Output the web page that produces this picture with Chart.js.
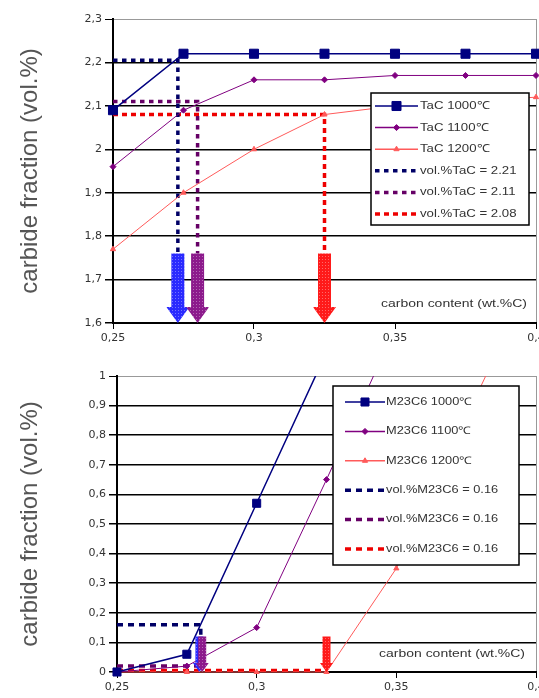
<!DOCTYPE html>
<html>
<head>
<meta charset="utf-8">
<script src="https://cdn.jsdelivr.net/npm/chart.js@4.4.0/dist/chart.umd.min.js"></script>
<style>
html,body{margin:0;padding:0;background:#fff;}
#wrap{position:relative;width:539px;height:698px;overflow:hidden;}
canvas{position:absolute;left:0;}
#top{top:0;}
#bot{top:352px;}
</style>
</head>
<body>
<div id="wrap">
  <canvas id="top" width="552" height="352"></canvas>
  <canvas id="bot" width="552" height="346"></canvas>
</div>
<script>
// carbon content (wt.%C)
const carbon = [0.25, 0.275, 0.3, 0.325, 0.35, 0.375, 0.4];
const xLabels = ['0,25', '0,3', '0,35', '0,4'];

// TaC
const tac1000 = [2.09, 2.22, 2.22, 2.22, 2.22, 2.22, 2.22];
const tac1100 = [1.96, 2.09, 2.16, 2.16, 2.17, 2.17, 2.17];
const tac1200 = [1.77, 1.90, 2.00, 2.08, 2.10, 2.11, 2.12];
const tacYLabels = ['1,6', '1,7', '1,8', '1,9', '2', '2,1', '2,2', '2,3'];
const tacGuideLevel = [2.205, 2.11, 2.08];
const tacGuideX = [0.273, 0.28, 0.325];
const tacGuideEnd = [1.76, 1.76, 1.76];
const tacArrowX = [0.273, 0.28, 0.325];
const tacArrowTop = [1.76, 1.76, 1.76];
const tacArrowBottom = [1.6, 1.6, 1.6];

// M23C6
const m1000 = [0, 0.06, 0.57, 1.08, null, null, null];
const m1100 = [0, 0.02, 0.15, 0.65, 1.17, null, null];
const m1200 = [0, 0, 0, 0, 0.35, 0.86, 1.36];
const mYLabels = ['0', '0,1', '0,2', '0,3', '0,4', '0,5', '0,6', '0,7', '0,8', '0,9', '1'];
const mGuideLevel = [0.16, 0.02, 0.005];
const mGuideX = [0.28, 0.28, 0.325];
const mGuideEnd = [0.12, 0.02, 0.005];
const mArrowX = [0.2795, 0.2805, 0.325];
const mArrowTop = [0.12, 0.12, 0.12];
const mArrowBottom = [0, 0, 0];

const NAVY = '#000080', PURPLE = '#800080', RED = '#ff5a5a';
const arrowColors = ['#2a2aff', '#8c1a8c', '#ff1a1a'];
const guideColors = ['#000066', '#660066', '#ee0000'];

function series(label, vals, color, w, style, r){
  return {label, data: carbon.map((c,i)=>({x:c, y:vals[i]})), borderColor:color, borderWidth:w,
    pointStyle:style, pointRadius:r, pointHoverRadius:r, pointBackgroundColor:color, pointBorderColor:color,
    pointBorderWidth:1, tension:0, spanGaps:false, clip:{left:10, right:10, top:0, bottom:10}};
}
function guide(label, level, x, end, color, dash){
  return {label, data:[{x:0.25,y:level},{x:x,y:level},{x:x,y:end}], borderColor:color, borderWidth:3.5,
    borderDash:dash, borderCapStyle:'butt', pointRadius:0, pointHoverRadius:0, tension:0};
}

function stretchText(ctx, txt, x, y, sx, align){
  ctx.save(); ctx.translate(x, y); ctx.scale(sx, 1); ctx.textAlign = align; ctx.fillText(txt, 0, 0); ctx.restore();
}

function dotPattern(ctx, color){
  const c = document.createElement('canvas'); c.width = 3; c.height = 3;
  const g = c.getContext('2d');
  g.fillStyle = color; g.fillRect(0,0,3,3);
  g.fillStyle = 'rgba(255,255,255,0.35)'; g.fillRect(1,1,1,1);
  return ctx.createPattern(c, 'repeat');
}

const arrowPlugin = {
  id: 'arrows',
  afterDatasetsDraw(chart, args, o){
    const {ctx, scales:{x, y}} = chart;
    o.xs.forEach((v,i)=>{
      const px = x.getPixelForValue(v), t = y.getPixelForValue(o.tops[i]), b = y.getPixelForValue(o.bottoms[i]);
      const sw = o.shaft/2, hw = o.head/2, hb = b - o.headH;
      ctx.save();
      ctx.fillStyle = dotPattern(ctx, o.colors[i]);
      ctx.beginPath();
      ctx.moveTo(px-sw, t); ctx.lineTo(px+sw, t); ctx.lineTo(px+sw, hb); ctx.lineTo(px+hw, hb);
      ctx.lineTo(px, b); ctx.lineTo(px-hw, hb); ctx.lineTo(px-sw, hb); ctx.closePath();
      ctx.fill();
      ctx.restore();
    });
  }
};

const boxLegend = {
  id: 'boxLegend',
  afterDraw(chart, args, o){
    const ctx = chart.ctx;
    ctx.save();
    // axis caption inside plot
    ctx.fillStyle = '#333'; ctx.font = o.capFont; ctx.textBaseline = 'middle';
    stretchText(ctx, o.caption, o.capX, o.capY, o.capSx, 'right');
    // legend box
    ctx.fillStyle = '#fff'; ctx.fillRect(o.x, o.y, o.w, o.h);
    ctx.strokeStyle = '#000'; ctx.lineWidth = 1.5; ctx.strokeRect(o.x, o.y, o.w, o.h);
    chart.data.datasets.forEach((ds,i)=>{
      const yy = o.y + o.first + i*o.rowH;
      ctx.strokeStyle = ds.borderColor; ctx.lineWidth = Math.max(ds.borderWidth, 1.5);
      ctx.setLineDash(ds.borderDash || []); ctx.lineCap = 'butt';
      ctx.beginPath(); ctx.moveTo(o.x1, yy); ctx.lineTo(o.x2, yy); ctx.stroke();
      ctx.setLineDash([]);
      if(ds.pointRadius > 0){
        ctx.fillStyle = ds.pointBackgroundColor; ctx.strokeStyle = ds.pointBorderColor; ctx.lineWidth = 1;
        Chart.helpers.drawPoint(ctx, {pointStyle:ds.pointStyle, radius:ds.pointRadius, rotation:0, borderWidth:1}, (o.x1+o.x2)/2, yy);
      }
      ctx.fillStyle = '#333'; ctx.font = o.font; ctx.textBaseline = 'middle';
      stretchText(ctx, ds.label, o.tx, yy, o.sx, 'left');
    });
    ctx.restore();
  }
};

const tickFont = {family:'DejaVu Sans', size:11};
function scalesFor(yMin, yMax, yLabels, yWidth, xHeight){
  return {
    x: {type:'linear', min:0.25, max:0.4,
      ticks:{stepSize:0.05, autoSkip:false, maxRotation:0, padding:3, font:tickFont, color:'#333',
        callback:(v,i)=>xLabels[i]},
      grid:{color:c=>c.index === c.scale.ticks.length-1 ? '#999' : 'rgba(0,0,0,0)', tickColor:'#000', tickLength:6, lineWidth:1},
      border:{color:'#000', width:2},
      afterFit:s=>{ s.height = xHeight; }},
    y: {min:yMin, max:yMax,
      ticks:{stepSize:0.1, autoSkip:false, padding:3, font:tickFont, color:'#333', callback:(v,i)=>yLabels[i]},
      grid:{color:c=>c.index === c.scale.ticks.length-1 ? '#999' : '#000', tickColor:'#000', tickLength:8,
        lineWidth:c=>c.index === c.scale.ticks.length-1 ? 1 : 1.5},
      border:{color:'#000', width:2},
      title:{display:true, text:'carbide fraction (vol.%)', color:'#555',
        font:{family:'Liberation Sans', size:24}, padding:{top:16, bottom:0}},
      afterFit:s=>{ s.width = yWidth; }}
  };
}

const commonPlugins = {legend:{display:false}, tooltip:{enabled:false}};

new Chart(document.getElementById('top'), {
  type:'line',
  data:{datasets:[
    series('TaC 1000℃', tac1000, NAVY, 1.5, 'rect', 6.4),
    series('TaC 1100℃', tac1100, PURPLE, 1, 'rectRot', 3),
    series('TaC 1200℃', tac1200, RED, 1, 'triangle', 3),
    guide('vol.%TaC = 2.21', tacGuideLevel[0], tacGuideX[0], tacGuideEnd[0], guideColors[0], [4.5,4.5]),
    guide('vol.%TaC = 2.11', tacGuideLevel[1], tacGuideX[1], tacGuideEnd[1], guideColors[1], [4.5,4.5]),
    guide('vol.%TaC = 2.08', tacGuideLevel[2], tacGuideX[2], tacGuideEnd[2], guideColors[2], [5,4])
  ]},
  options:{
    responsive:false, animation:false, devicePixelRatio:1,
    layout:{padding:{top:19, right:16, left:0, bottom:0}},
    scales:scalesFor(1.6, 2.3, tacYLabels, 113, 29),
    plugins:Object.assign({}, commonPlugins, {
      arrows:{xs:tacArrowX, tops:tacArrowTop, bottoms:tacArrowBottom, colors:arrowColors, shaft:13, head:23, headH:16},
      boxLegend:{x:371, y:93, w:158, h:132, first:13, rowH:21.6, x1:375, x2:418, tx:420,
        font:'11px "Liberation Sans"', sx:1.2,
        caption:'carbon content (wt.%C)', capFont:'11px "Liberation Sans"', capSx:1.27, capX:527, capY:304}
    })
  },
  plugins:[arrowPlugin, boxLegend]
});

new Chart(document.getElementById('bot'), {
  type:'line',
  data:{datasets:[
    series('M23C6 1000℃', m1000, NAVY, 1.5, 'rect', 5.7),
    series('M23C6 1100℃', m1100, PURPLE, 1, 'rectRot', 3),
    series('M23C6 1200℃', m1200, RED, 1, 'triangle', 3),
    guide('vol.%M23C6 = 0.16', mGuideLevel[0], mGuideX[0], mGuideEnd[0], guideColors[0], [6,5]),
    guide('vol.%M23C6 = 0.16', mGuideLevel[1], mGuideX[1], mGuideEnd[1], guideColors[1], [6,5]),
    guide('vol.%M23C6 = 0.16', mGuideLevel[2], mGuideX[2], mGuideEnd[2], guideColors[2], [6,5])
  ]},
  options:{
    responsive:false, animation:false, devicePixelRatio:1,
    layout:{padding:{top:24, right:16, left:0, bottom:0}},
    scales:scalesFor(0, 1, mYLabels, 117, 26),
    plugins:Object.assign({}, commonPlugins, {
      arrows:{xs:mArrowX, tops:mArrowTop, bottoms:mArrowBottom, colors:arrowColors, shaft:8, head:13, headH:9},
      boxLegend:{x:333, y:34, w:186, h:179, first:16, rowH:29.4, x1:345, x2:385, tx:386,
        font:'10.5px "Liberation Sans"', sx:1.22,
        caption:'carbon content (wt.%C)', capFont:'11px "Liberation Sans"', capSx:1.27, capX:525, capY:302}
    })
  },
  plugins:[arrowPlugin, boxLegend]
});
</script>
</body>
</html>
